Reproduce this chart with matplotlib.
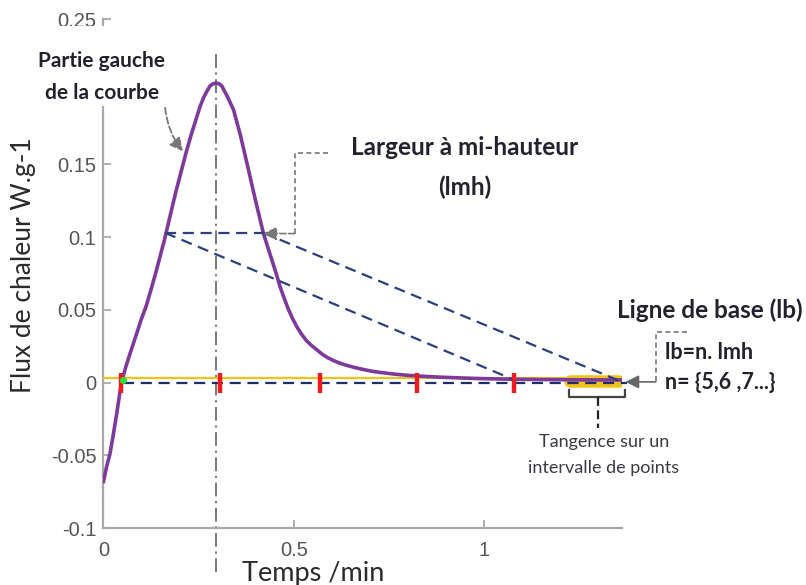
import matplotlib.pyplot as plt
from matplotlib.patches import Rectangle

# courbe de flux de chaleur
temps = [0.0, 0.008, 0.017, 0.025, 0.035, 0.047, 0.06, 0.073, 0.09, 0.1, 0.112, 0.125,
         0.14, 0.16, 0.175, 0.19, 0.205, 0.219, 0.23, 0.242, 0.254, 0.263, 0.271, 0.28,
         0.288, 0.296, 0.304, 0.311, 0.319, 0.327, 0.334, 0.342, 0.36, 0.377, 0.398, 0.42,
         0.432, 0.443, 0.454, 0.464, 0.475, 0.485, 0.497, 0.508, 0.52, 0.533, 0.547, 0.561,
         0.575, 0.59, 0.606, 0.622, 0.64, 0.66, 0.685, 0.71, 0.74, 0.77, 0.8, 0.83,
         0.88, 0.95, 1.0, 1.078, 1.15, 1.25, 1.36]
flux = [-0.068, -0.058, -0.049, -0.037, -0.021, 0.0, 0.012, 0.0225, 0.036, 0.044, 0.0525, 0.064,
        0.078, 0.098, 0.1145, 0.131, 0.146, 0.160, 0.170, 0.180, 0.19, 0.196, 0.200, 0.204,
        0.2055, 0.206, 0.2055, 0.204, 0.200, 0.196, 0.192, 0.1875, 0.170, 0.151, 0.127, 0.103,
        0.093, 0.084, 0.075, 0.066, 0.058, 0.051, 0.044, 0.0385, 0.0335, 0.029, 0.0255, 0.0225,
        0.0195, 0.017, 0.015, 0.0133, 0.0118, 0.0104, 0.0089, 0.0076, 0.0066, 0.0057, 0.005, 0.0045,
        0.0038, 0.0031, 0.0027, 0.0023, 0.0021, 0.0019, 0.0018]

# graduations (0.2 est masque par l'etiquette "Partie gauche")
xticks = [0, 0.5, 1]
xlabels = ['0', '0.5', '1']
yticks = [-0.1, -0.05, 0, 0.05, 0.1, 0.15, 0.2, 0.25]
ylabels = ['-0.1', '-0.05', '0', '0.05', '0.1', '0.15', '', '0.25']

# constructions : largeur a mi-hauteur et droites vers la ligne de base
lmh_x = [0.162, 0.42]
lmh_y = [0.103, 0.103]
diag_haut_x = [0.42, 1.358]
diag_haut_y = [0.103, 0.001]
diag_bas_x = [0.162, 1.078]
diag_bas_y = [0.103, 0.002]
base_x = [0.05, 1.376]
base_y = [0.0, 0.0]
jaune_x = [0.0, 1.36]
jaune_y = [0.003, 0.003]
tangence_x = [1.225, 1.355]
tangence_y = [0.001, 0.001]
reperes_x = [0.046, 0.305, 0.568, 0.824, 1.078]
reperes_y = [0.0, 0.0, 0.0, 0.0, 0.0]
pic_x = 0.297

fig = plt.figure(figsize=(8.06, 5.85), dpi=100)
ax = fig.add_axes([0.1284, 0.0974, 0.6429, 0.870])
ax.set_xlim(0, 1.362)
ax.set_ylim(-0.1, 0.25)

for s in ['top', 'right']:
    ax.spines[s].set_visible(False)
for s in ['left', 'bottom']:
    ax.spines[s].set_color('#a8a8a8')
    ax.spines[s].set_linewidth(1.6)
ax.tick_params(direction='in', length=6, width=1.3, color='#a8a8a8',
               labelcolor='#555555')
ax.tick_params(axis='y', pad=5)
ax.tick_params(axis='x', pad=9)
ax.set_xticks(xticks)
ax.set_xticklabels(xlabels, family='Liberation Sans', fontsize=14.5, color='#555555')
ax.set_yticks(yticks)
ax.set_yticklabels(ylabels, family='Liberation Sans', fontsize=14.5, color='#555555')

# lignes de construction
ax.plot(jaune_x, jaune_y, color='#f2c21b', lw=1.6, zorder=3)
ax.plot(tangence_x, tangence_y, color='#f2c21b', lw=9, solid_capstyle='round', zorder=3)
ax.plot(base_x, base_y, color='#1d2f6b', lw=1.6, ls=(0, (5, 3)), zorder=5, clip_on=False)
ax.plot(lmh_x, lmh_y, color='#2a3f7e', lw=1.6, ls=(0, (5, 3)), zorder=5)
ax.plot(diag_haut_x, diag_haut_y, color='#2a3f7e', lw=1.6, ls=(0, (5, 3)), zorder=5)
ax.plot(diag_bas_x, diag_bas_y, color='#2a3f7e', lw=1.6, ls=(0, (5, 3)), zorder=5)
ax.plot([pic_x, pic_x], [-0.13, 0.229], color='#555555', lw=1.1,
        ls=(0, (9, 3, 1.5, 3)), zorder=2, clip_on=False)

# courbe
ax.plot(temps, flux, color='#7d3a9a', lw=2.6, zorder=4, solid_joinstyle='round')
ax.plot(reperes_x, reperes_y, ls='none', marker='|', ms=14, mew=3.2, color='#ee1c1c', zorder=6)
ax.plot([0.05], [0.002], ls='none', marker='o', ms=4, color='#33dd33', zorder=7)

# cache blanc derriere le texte "Partie gauche"
ax.add_patch(Rectangle((-0.19, 0.19), 0.37, 0.0555, transform=ax.transData,
                       fc='white', ec='none', zorder=3, clip_on=False))

txt = dict(family='Lato', weight='bold', color='#22222e', zorder=8, clip_on=False)
ax.text(-0.004, 0.221, 'Partie gauche', ha='center', va='center', fontsize=15, **txt)
ax.text(-0.004, 0.199, 'de la courbe', ha='center', va='center', fontsize=15, **txt)
ax.annotate('', xy=(0.209, 0.159), xytext=(0.162, 0.189),
            arrowprops=dict(arrowstyle='-|>,head_length=0.8,head_width=0.4', color='#777777',
                            ls='--', lw=1.3, connectionstyle='arc3,rad=0.15',
                            shrinkA=0, shrinkB=0), zorder=6)

ax.text(0.95, 0.1614, 'Largeur à mi-hauteur', ha='center', va='center', fontsize=17.5, **txt)
ax.text(0.95, 0.1345, '(lmh)', ha='center', va='center', fontsize=17.5, **txt)
ax.plot([0.59, 0.503, 0.503], [0.158, 0.158, 0.1025], color='#777777', lw=1.2,
        ls=(0, (3, 2)), zorder=6)
ax.annotate('', xy=(0.42, 0.1025), xytext=(0.503, 0.1025),
            arrowprops=dict(arrowstyle='-|>,head_length=0.8,head_width=0.4', color='#777777',
                            ls='--', lw=1.2, shrinkA=0, shrinkB=0), zorder=6)

ax.text(1.349, 0.0498, 'Ligne de base (lb)', ha='left', va='center', fontsize=17.5, **txt)
ax.text(1.476, 0.0204, 'lb=n. lmh', ha='left', va='center', fontsize=15.5, **txt)
ax.text(1.476, 0.0, 'n= {5,6 ,7...}', ha='left', va='center', fontsize=15.5, **txt)
ax.plot([1.533, 1.452, 1.452], [0.035, 0.035, 0.0005], color='#777777', lw=1.2,
        ls=(0, (3, 2)), zorder=6, clip_on=False)
ax.annotate('', xy=(1.372, 0.0005), xytext=(1.452, 0.0005),
            arrowprops=dict(arrowstyle='-|>,head_length=0.8,head_width=0.4', color='#666666',
                            lw=1.2, shrinkA=0, shrinkB=0), zorder=6, annotation_clip=False)

# accolade sous l'intervalle de tangence
ax.plot([1.223, 1.223, 1.371, 1.371], [-0.005, -0.0098, -0.0098, -0.005], color='#444444',
        lw=1.6, zorder=6, clip_on=False)
ax.plot([1.301, 1.301], [-0.0098, -0.031], color='#222222', lw=1.6, ls=(0, (4, 2)),
        zorder=6, clip_on=False)
ax.text(1.315, -0.041, 'Tangence sur un', ha='center', va='center', fontsize=13,
        family='Lato', color='#3a3a44', clip_on=False)
ax.text(1.315, -0.0589, 'intervalle de points', ha='center', va='center', fontsize=13,
        family='Lato', color='#3a3a44', clip_on=False)

ax.set_ylabel('Flux de chaleur W.g-1', family='Lato', fontsize=19, color='#2a2a2a')
ax.yaxis.set_label_coords(-0.130, 0.517)
ax.set_xlabel('Temps /min', family='Lato', fontsize=19.5, color='#2a2a2a', va='center')
ax.xaxis.set_label_coords(0.404, -0.090)

fig.savefig('out.png', dpi=100)
